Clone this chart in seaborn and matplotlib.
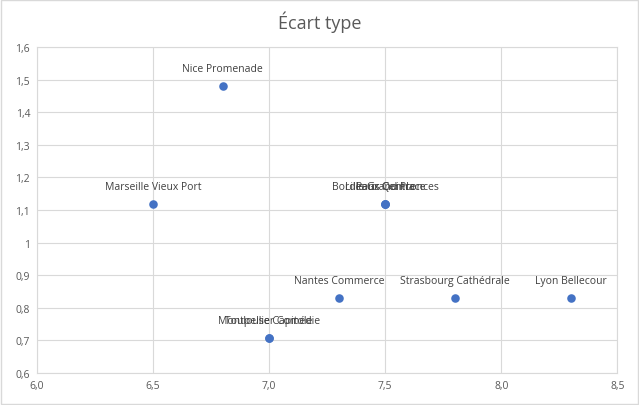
import numpy as np
import pandas as pd
import matplotlib
matplotlib.use("Agg")
import matplotlib.pyplot as plt
import matplotlib.ticker as mticker
import seaborn as sns

# points
sites = ["Marseille Vieux Port", "Nice Promenade", "Toulouse Capitole", "Montpellier Comédie",
         "Nantes Commerce", "Bordeaux Quinconces", "Lille Grand Place", "Paris Centre",
         "Strasbourg Cathédrale", "Lyon Bellecour"]
x_vals = [6.5, 6.8, 7.0, 7.0, 7.3, 7.5, 7.5, 7.5, 7.8, 8.3]
y_vals = [1.118, 1.479, 0.707, 0.707, 0.829, 1.118, 1.118, 1.118, 0.829, 0.829]

df = pd.DataFrame({"site": sites, "x": x_vals, "y": y_vals})

sns.set_style("white")
plt.rcParams["font.family"] = ["Open Sans", "DejaVu Sans"]
txt = "#595959"

fig = plt.figure(figsize=(6.39, 4.06), dpi=100)
ax = fig.add_axes([0.058, 0.079, 0.908, 0.803])

sns.scatterplot(data=df, x="x", y="y", ax=ax, color="#4472C4", s=38,
                edgecolor="#4472C4", linewidth=0, zorder=3)

for _, r in df.iterrows():
    ax.annotate(r["site"], (r["x"], r["y"]), xytext=(0, 9), textcoords="offset points",
                ha="center", va="bottom", fontsize=7.5, color="#404040")

ax.set_xlim(6.0, 8.5)
ax.set_ylim(0.6, 1.6)
ax.xaxis.set_major_locator(mticker.MultipleLocator(0.5))
ax.yaxis.set_major_locator(mticker.MultipleLocator(0.1))
ax.xaxis.set_major_formatter(mticker.FuncFormatter(lambda v, p: f"{v:.1f}".replace(".", ",")))
ax.yaxis.set_major_formatter(mticker.FuncFormatter(
    lambda v, p: (f"{v:.1f}".replace(".", ",")).replace(",0", "") if abs(v - 1) < 1e-9 else f"{v:.1f}".replace(".", ",")))

ax.grid(True, color="#d9d9d9", linewidth=0.8)
ax.set_axisbelow(True)
for s in ax.spines.values():
    s.set_color("#d9d9d9")
    s.set_linewidth(0.8)
ax.tick_params(axis="both", length=0, labelsize=7.5, colors=txt, pad=5)
ax.set_xlabel("")
ax.set_ylabel("")

fig.text(0.5, 0.945, "Écart type", ha="center", va="center", fontsize=13, color=txt)

fig.patches.append(plt.Rectangle((0.002, 0.003), 0.996, 0.994, transform=fig.transFigure,
                                 fill=False, edgecolor="#d9d9d9", linewidth=1))

fig.savefig("out.png", dpi=100)
